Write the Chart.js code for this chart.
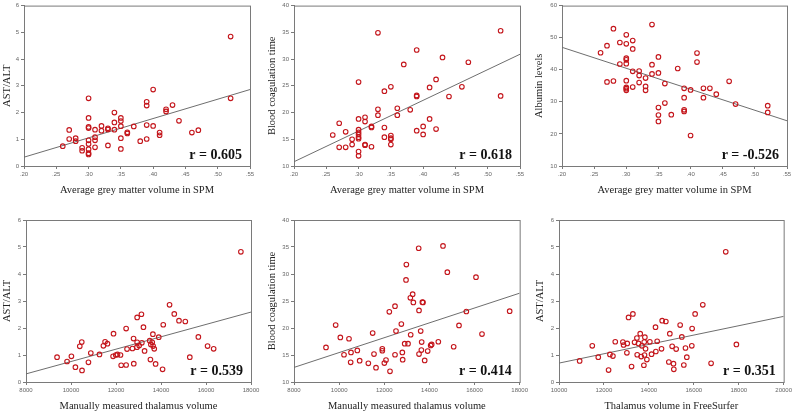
<!DOCTYPE html>
<html lang="en">
<head>
<meta charset="UTF-8">
<title>Liver function vs brain volume</title>
<script src="https://cdn.jsdelivr.net/npm/chart.js"></script>
<style>
  body { margin: 0; background: #fff; }
  #grid { position: relative; width: 794px; height: 413px; }
  #grid canvas { position: absolute; }
</style>
</head>
<body>
<div id="grid">
  <canvas id="c1" width="265" height="205" style="left:0;top:0"></canvas>
  <canvas id="c2" width="265" height="205" style="left:265px;top:0"></canvas>
  <canvas id="c3" width="264" height="205" style="left:530px;top:0"></canvas>
  <canvas id="c4" width="265" height="208" style="left:0;top:205px"></canvas>
  <canvas id="c5" width="265" height="208" style="left:265px;top:205px"></canvas>
  <canvas id="c6" width="264" height="208" style="left:530px;top:205px"></canvas>
</div>
<script>
// --- grey matter (SPM) panels ---
const gmSpmA = [.26,.27,.27,.28,.28,.29,.29,.30,.30,.30,.30,.30,.30,.30,.30,.30,.31,.31,.31,.31,.32,.32,.33,.33,.33,.34,.34,.34,.35,.35,.35,.35,.35,.36,.36,.37,.38,.39,.39,.39,.39,.40,.40,.41,.41,.42,.42,.43,.44,.46,.47,.52,.52];
const astAltA = [0.74,1.35,1.01,1.04,0.93,0.68,0.57,2.53,1.80,1.46,1.42,0.96,0.82,0.63,0.48,0.43,1.36,1.08,0.96,0.70,1.50,1.32,1.41,1.37,0.77,2.00,1.63,1.36,1.80,1.68,1.49,1.04,0.64,1.26,1.22,1.48,0.93,2.40,2.26,1.53,1.01,2.86,1.50,1.25,1.15,2.12,2.04,2.28,1.69,1.25,1.34,4.84,2.53];

const gmSpmB = [.26,.27,.27,.28,.28,.29,.29,.30,.30,.30,.30,.30,.30,.30,.30,.30,.31,.31,.31,.31,.32,.32,.32,.33,.33,.33,.34,.34,.34,.35,.35,.35,.35,.35,.36,.36,.37,.38,.39,.39,.39,.39,.40,.40,.41,.41,.42,.42,.43,.44,.46,.47,.52,.52];
const coagB = [15.8,18.0,13.5,16.4,13.5,15.0,14.0,25.7,18.8,16.8,16.3,15.9,15.4,15.1,12.7,11.9,19.1,18.3,14.0,13.9,17.4,17.2,13.6,34.9,20.6,19.5,24.0,17.2,15.4,24.8,15.7,15.2,15.0,14.0,20.8,19.5,29.0,20.5,31.7,23.2,23.0,16.6,17.4,15.9,24.7,18.8,26.2,16.9,30.3,23.0,24.8,29.4,35.3,23.1];

const gmSpmC = [.26,.27,.27,.28,.28,.29,.29,.30,.30,.30,.30,.30,.30,.30,.30,.30,.31,.31,.31,.31,.32,.32,.32,.33,.33,.33,.34,.34,.34,.35,.35,.35,.35,.35,.36,.36,.37,.38,.39,.39,.39,.39,.40,.40,.41,.41,.42,.42,.43,.44,.46,.47,.52,.52];
const albuminC = [45.3,47.5,36.2,52.8,36.5,48.5,41.8,50.9,48.1,43.6,43.1,41.9,36.6,34.5,34.1,33.6,49.1,46.5,39.5,34.6,39.6,38.2,36.0,37.4,34.8,33.6,54.1,41.6,38.7,44.0,39.0,28.2,25.9,23.9,35.7,29.6,26.0,40.4,34.2,31.3,27.5,27.0,33.7,19.5,45.2,42.4,34.2,31.3,34.2,32.4,36.4,29.3,28.8,26.7];

// --- thalamus panels ---
const thalManD = [9380,9825,10018,10196,10390,10478,10490,10775,10880,11265,11440,11515,11620,11890,11870,11990,12065,12200,12230,12450,12490,12450,12730,12780,12790,12930,12940,12940,13030,13130,13150,13220,13270,13500,13530,13550,13610,13640,13650,13700,13760,13900,14070,14100,14380,14590,14800,15080,15280,15660,16070,16340,17550];
const astAltD = [0.92,0.76,0.95,0.55,1.32,1.48,0.43,0.73,1.07,1.02,1.34,1.49,1.42,1.79,0.95,1.00,1.02,1.00,0.62,1.98,1.22,0.63,1.24,1.61,0.68,1.29,2.39,1.47,1.35,2.51,1.45,2.03,1.15,1.53,0.83,1.39,1.47,1.77,1.33,1.23,0.67,1.66,0.47,2.12,2.86,2.52,2.27,2.24,0.92,1.67,1.33,1.23,4.82];

const thalManE = [9418,9846,10053,10216,10437,10526,10511,10806,10910,11294,11486,11545,11634,11914,11914,12003,12077,12224,12254,12476,12476,12520,12757,12801,12816,12905,12964,12979,13053,13156,13171,13259,13289,13525,13540,13540,13614,13644,13658,13688,13717,13791,13924,14057,14101,14396,14603,14795,15076,15312,15637,16065,16331,17557];
const coagE = [16.41,20.54,18.26,15.05,18.01,15.48,13.64,15.85,13.94,13.45,19.06,15.18,12.65,16.16,15.79,13.51,14.07,23.0,11.97,24.05,15.05,19.43,20.72,15.48,14.13,17.09,28.91,31.75,17.09,25.59,18.75,26.27,24.73,34.77,23.25,15.18,19.43,15.91,17.39,24.79,24.73,14.0,15.73,16.78,16.96,17.45,35.2,30.33,16.53,20.47,23.06,29.41,18.87,23.12];

const thalFsF = [10919,11481,11748,12207,12267,12400,12504,12844,12874,13022,13037,13096,13230,13289,13363,13467,13481,13541,13615,13659,13689,13778,13793,13807,13822,13852,13911,14044,14119,14296,14311,14370,14563,14593,14756,14889,14933,15037,15096,15111,15215,15393,15467,15556,15630,15689,15926,15911,16059,16400,16770,17422,17896];
const astAltF = [0.78,1.34,0.92,0.44,1.02,0.96,1.49,1.48,1.37,1.08,1.43,2.39,0.57,2.52,1.47,1.63,1.01,1.43,1.79,0.94,1.34,0.62,1.48,1.00,1.66,1.23,0.83,1.49,1.03,2.03,1.13,1.51,1.23,2.27,2.24,0.74,1.79,1.32,0.68,0.47,1.22,2.11,1.67,0.63,1.26,0.92,1.98,1.34,2.52,2.86,0.69,4.82,1.39];

// fitted regression lines (end points)
const fitGmX = [0.20, 0.55];
const fitA = [0.33, 2.86];
const fitB = [10.8, 30.9];
const fitC = [47.0, 24.1];
const fitThalX = [8000, 18000];
const fitD = [0.30, 2.59];
const fitE = [12.7, 26.45];
const fitFsX = [10000, 20000];
const fitF = [0.70, 2.43];

const rLabels = ['r = 0.605', 'r = 0.618', 'r = -0.526', 'r = 0.539', 'r = 0.414', 'r = 0.351'];

const gmTitle = 'Average grey matter volume in SPM';
const gmTick = v => v.toFixed(2).replace(/^0/, '');
const plainTick = v => String(v);

const panels = [
  { id: 'c1', x: gmSpmA, y: astAltA, fx: fitGmX, fy: fitA, xr: [0.2, 0.55, 0.05], yr: [0, 6, 1], xt: gmTitle, yt: 'AST/ALT', fmt: gmTick, r: rLabels[0],
    cell: [0, 0, 265, 205], area: [24, 4, 250, 166], yOff: 7, xOff: 15 },
  { id: 'c2', x: gmSpmB, y: coagB, fx: fitGmX, fy: fitB, xr: [0.2, 0.55, 0.05], yr: [10, 40, 5], xt: gmTitle, yt: 'Blood coagulation time', fmt: gmTick, r: rLabels[1],
    cell: [265, 0, 265, 205], area: [294, 4, 520, 166], yOff: 7, xOff: 15 },
  { id: 'c3', x: gmSpmC, y: albuminC, fx: fitGmX, fy: fitC, xr: [0.2, 0.55, 0.05], yr: [10, 60, 10], xt: gmTitle, yt: 'Albumin levels', fmt: gmTick, r: rLabels[2],
    cell: [530, 0, 264, 205], area: [562, 4, 787, 166], yOff: 9, xOff: 15 },
  { id: 'c4', x: thalManD, y: astAltD, fx: fitThalX, fy: fitD, xr: [8000, 18000, 2000], yr: [0, 6, 1], xt: 'Manually measured thalamus volume', yt: 'AST/ALT', fmt: plainTick, r: rLabels[3],
    cell: [0, 205, 265, 208], area: [26, 220, 251, 382], yOff: 7, xOff: 7 },
  { id: 'c5', x: thalManE, y: coagE, fx: fitThalX, fy: fitE, xr: [8000, 18000, 2000], yr: [10, 40, 5], xt: 'Manually measured thalamus volume', yt: 'Blood coagulation time', fmt: plainTick, r: rLabels[4],
    cell: [265, 205, 265, 208], area: [294, 220, 520, 382], yOff: 7, xOff: 7 },
  { id: 'c6', x: thalFsF, y: astAltF, fx: fitFsX, fy: fitF, xr: [10000, 20000, 2000], yr: [0, 6, 1], xt: 'Thalamus volume in FreeSurfer', yt: 'AST/ALT', fmt: plainTick, r: rLabels[5],
    cell: [530, 205, 264, 208], area: [559, 220, 784, 382], yOff: 10, xOff: 7 }
];

const axisGray = '#7a7a7a';
const titleFont = { family: '"Liberation Serif", "Times New Roman", serif', size: 10.5 };
const tickFont = { family: '"Liberation Sans", Arial, sans-serif', size: 6 };

// frame around plot area and the r value in the corner
const framePlugin = {
  id: 'frame',
  beforeDatasetsDraw(chart) {
    const { ctx, chartArea: a } = chart;
    ctx.save();
    ctx.strokeStyle = axisGray;
    ctx.lineWidth = 1;
    ctx.strokeRect(a.left + 0.5, a.top + 0.5, a.right - a.left, a.bottom - a.top);
    ctx.restore();
  },
  afterDraw(chart, args, opts) {
    const { ctx, chartArea: a } = chart;
    ctx.save();
    ctx.font = 'bold 14px "Liberation Serif", "Times New Roman", serif';
    ctx.fillStyle = '#111';
    ctx.textAlign = 'right';
    ctx.textBaseline = 'alphabetic';
    ctx.fillText(opts.text, a.right - 8, a.bottom - 7);
    ctx.restore();
  }
};

panels.forEach(p => {
  const [cl, ct, cw, ch] = p.cell;
  const [al, at, ar, ab] = p.area;
  const lh = titleFont.size * 1.2;
  new Chart(document.getElementById(p.id), {
    type: 'scatter',
    data: {
      datasets: [
        {
          data: p.x.map((v, i) => ({ x: v, y: p.y[i] })),
          pointRadius: 2.3,
          pointBorderWidth: 1.1,
          borderColor: '#c4161c',
          backgroundColor: 'rgba(0,0,0,0)'
        },
        {
          data: p.fx.map((v, i) => ({ x: v, y: p.fy[i] })),
          showLine: true,
          pointRadius: 0,
          borderColor: '#6e6e6e',
          borderWidth: 1
        }
      ]
    },
    options: {
      responsive: false,
      animation: false,
      devicePixelRatio: 1,
      events: [],
      layout: { padding: { left: 0, top: at - ct, right: cl + cw - ar, bottom: 0 } },
      plugins: { legend: { display: false }, tooltip: { enabled: false }, frame: { text: p.r } },
      scales: {
        x: {
          min: p.xr[0], max: p.xr[1],
          ticks: { stepSize: p.xr[2], callback: p.fmt, font: tickFont, color: '#666', padding: 2, maxRotation: 0 },
          grid: { drawOnChartArea: false, drawTicks: true, tickLength: 3, color: axisGray },
          border: { display: true, color: axisGray },
          title: { display: true, text: p.xt, font: titleFont, color: '#222', padding: { top: 0, bottom: p.xOff - lh / 2 } },
          afterFit: s => { s.height = ct + ch - ab; }
        },
        y: {
          min: p.yr[0], max: p.yr[1],
          ticks: { stepSize: p.yr[2], font: tickFont, color: '#666', padding: 2 },
          grid: { drawOnChartArea: false, drawTicks: true, tickLength: 3, color: axisGray },
          border: { display: true, color: axisGray },
          title: { display: true, text: p.yt, font: titleFont, color: '#222', padding: { top: p.yOff - lh / 2, bottom: 0 } },
          afterFit: s => { s.width = al - cl; }
        }
      }
    },
    plugins: [framePlugin]
  });
});
</script>
</body>
</html>
